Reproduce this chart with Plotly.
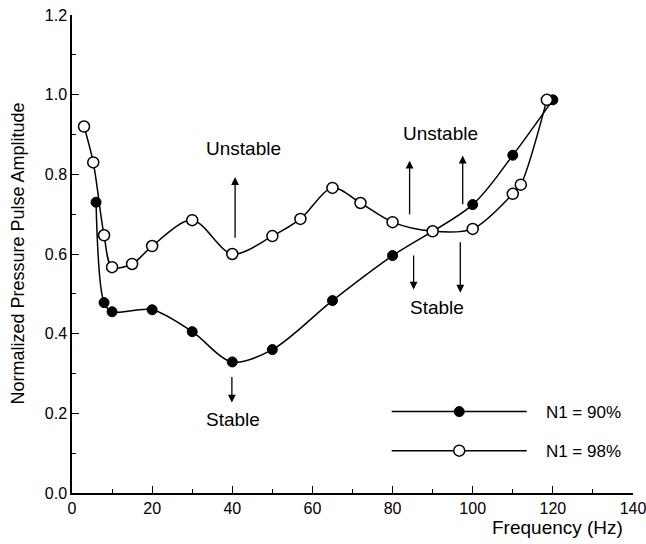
import plotly.graph_objects as go

# N1 = 90% (filled circles)
freq_90 = [6, 8, 10, 20, 30, 40, 50, 65, 80, 100, 110, 120]
amp_90 = [0.73, 0.478, 0.455, 0.46, 0.405, 0.329, 0.36, 0.483, 0.596, 0.724, 0.848, 0.987]

# N1 = 98% (open circles)
freq_98 = [3, 5.3, 8, 10, 15, 20, 30, 40, 50, 57, 65, 72, 80, 90, 100, 110, 112, 118.5]
amp_98 = [0.92, 0.83, 0.647, 0.567, 0.575, 0.62, 0.685, 0.60, 0.645, 0.688, 0.766, 0.728,
          0.68, 0.657, 0.663, 0.751, 0.774, 0.987]

series_names = ["N1 = 90%", "N1 = 98%"]
x_ticks = [0, 20, 40, 60, 80, 100, 120, 140]
y_ticks = [0.0, 0.2, 0.4, 0.6, 0.8, 1.0, 1.2]

FONT = "Liberation Sans, Arial, sans-serif"
PAD = "\u00a0\u00a0\u00a0"

fig = go.Figure()
fig.add_trace(go.Scatter(
    x=freq_90, y=amp_90, name=PAD + series_names[0], legendgroup="a",
    mode="lines+markers",
    line=dict(color="black", width=1.5, shape="spline", smoothing=0.9),
    marker=dict(symbol="circle", size=10, color="black", line=dict(color="black", width=1)),
))
fig.add_trace(go.Scatter(
    x=freq_98, y=amp_98, name=PAD + series_names[1], legendgroup="b",
    mode="lines+markers",
    line=dict(color="black", width=1.5, shape="spline", smoothing=0.9),
    marker=dict(symbol="circle", size=11, color="white", line=dict(color="black", width=1.5)),
))

axis_common = dict(
    showline=True, linecolor="black", linewidth=1.5,
    ticks="inside", ticklen=7, tickwidth=1.2, tickcolor="black",
    showgrid=False, zeroline=False, mirror=False,
    ticklabeloverflow="allow", automargin=False,
    tickfont=dict(family=FONT, size=16, color="black"),
)
fig.update_xaxes(range=[0, 140], tickvals=x_ticks, ticktext=[str(v) for v in x_ticks],
                 minor=dict(ticks="inside", ticklen=4, dtick=10, tickcolor="black", tickwidth=1),
                 **axis_common)
fig.update_yaxes(range=[0, 1.2], tickvals=y_ticks, ticktext=[f"{v:.1f}" for v in y_ticks],
                 minor=dict(ticks="inside", ticklen=4, dtick=0.1, tickcolor="black", tickwidth=1),
                 **axis_common)

ann = []
# axis titles
ann.append(dict(text="Frequency (Hz)", xref="paper", yref="paper", x=0.986, y=-0.072,
                xanchor="right", yanchor="middle", showarrow=False,
                font=dict(family=FONT, size=19, color="black")))
ann.append(dict(text="Normalized Pressure Pulse Amplitude", xref="paper", yref="paper",
                x=-0.097, y=0.5, xanchor="center", yanchor="middle", textangle=-90,
                showarrow=False, font=dict(family=FONT, size=18, color="black")))
# region labels
for txt, x, y in [("Unstable", 42.75, 0.865), ("Stable", 40.2, 0.185),
                  ("Unstable", 91.9, 0.902), ("Stable", 91.1, 0.465)]:
    ann.append(dict(text=txt, x=x, y=y, xref="x", yref="y", showarrow=False,
                    font=dict(family=FONT, size=19, color="black")))
# arrows (head x,y ; tail ax,ay)
for hx, hy, tx, ty in [(40.7, 0.793, 40.7, 0.637), (39.9, 0.227, 39.9, 0.295),
                       (84.25, 0.834, 84.25, 0.696), (97.5, 0.847, 97.5, 0.721),
                       (85.25, 0.511, 85.25, 0.60), (96.9, 0.503, 96.9, 0.633)]:
    ann.append(dict(x=hx, y=hy, ax=tx, ay=ty, xref="x", yref="y", axref="x", ayref="y",
                    text="", showarrow=True, arrowhead=2, arrowsize=1.2, arrowwidth=1.3,
                    arrowcolor="black"))

fig.update_layout(
    width=646, height=544,
    margin=dict(l=72, r=13, t=15, b=51),
    paper_bgcolor="white", plot_bgcolor="white",
    showlegend=True,
    legend=dict(x=0.561, y=0.207, xanchor="left", yanchor="top",
                itemwidth=135, tracegroupgap=14, traceorder="grouped",
                font=dict(family=FONT, size=17, color="black"),
                bgcolor="rgba(0,0,0,0)", borderwidth=0),
    annotations=ann,
)

fig.write_html("out.html")
